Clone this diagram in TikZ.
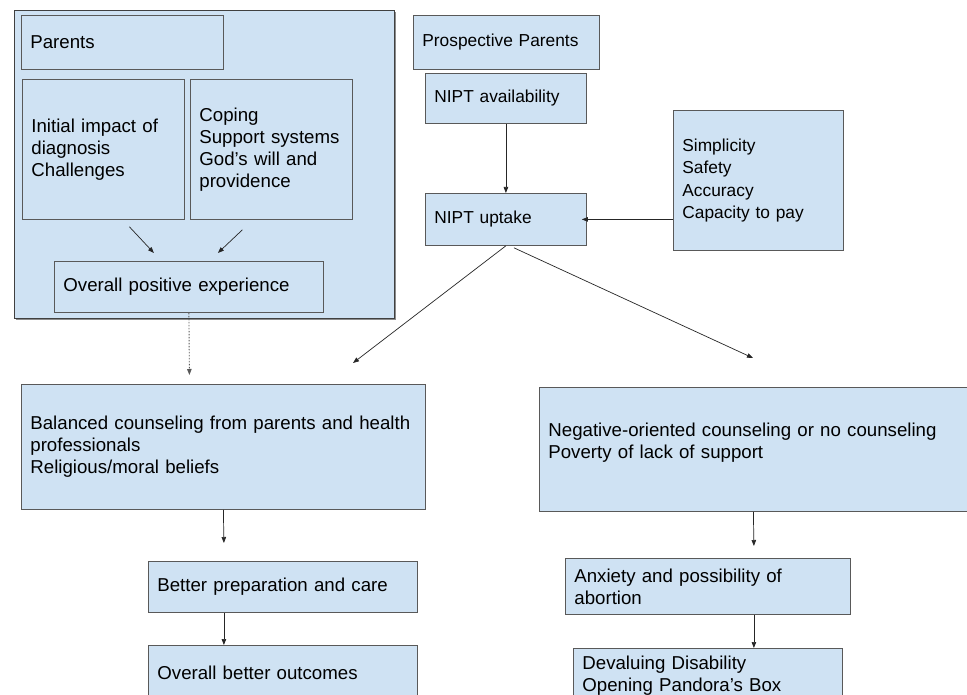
\documentclass[tikz,border=0pt]{standalone}
\usepackage{fontspec}
\setmainfont{Liberation Sans}
\usetikzlibrary{arrows.meta,shadows}
\definecolor{boxfill}{HTML}{CFE2F3}
\definecolor{boxline}{HTML}{595959}

\begin{document}
\begin{tikzpicture}[x=1pt,y=-1pt,>={Triangle[length=6pt,width=4.5pt]},
    box/.style={rectangle,draw=boxline,fill=boxfill,line width=0.8pt,anchor=north west,inner xsep=9pt,inner ysep=0pt,align=left,font=\fontsize{18.67}{22}\selectfont},
    small box/.style={box,font=\fontsize{17.33}{22.5}\selectfont},
    link/.style={->,line width=0.7pt,draw=black!85}]

        \useasboundingbox (0,0) rectangle (967,695);
        \fill[white] (0,0) rectangle (967,695);
        \clip (0,0) rectangle (967,695);

        % left group: parents
        \node[box,minimum width=380pt,minimum height=308pt,draw=black!75,
            drop shadow={shadow xshift=2pt,shadow yshift=-2pt,opacity=0.45,fill=black}] (family) at (14,10) {};
        \node[box,text width=184pt,minimum height=54pt] (parents) at (21,15) {Parents};
        \node[box,text width=144pt,minimum height=140pt] (impact) at (22,79) {Initial impact of\\diagnosis\\Challenges};
        \node[box,text width=144pt,minimum height=140pt] (coping) at (190,79) {Coping\\Support systems\\God’s will and\\providence};
        \node[box,text width=251pt,minimum height=51pt] (positive) at (54,261) {Overall positive experience};

        % prospective parents
        \node[small box,text width=168pt,minimum height=54pt] (prospective) at (413,15) {Prospective Parents};
        \node[small box,text width=143pt,minimum height=50pt] (avail) at (425,73) {NIPT availability};
        \node[small box,text width=143pt,minimum height=52pt] (uptake) at (425,193) {NIPT uptake};
        \node[small box,text width=152pt,minimum height=140pt] (factors) at (673,110) {Simplicity\\Safety\\Accuracy\\Capacity to pay};

        % outcomes
        \node[box,text width=386pt,minimum height=125pt] (balanced) at (21,384) {Balanced counseling from parents and health\\professionals\\Religious/moral beliefs};
        \node[box,text width=251pt,minimum height=51pt] (prep) at (148,561) {Better preparation and care};
        \node[box,text width=251pt,minimum height=54pt] (better) at (148,645) {Overall better outcomes};
        \node[box,text width=422pt,minimum height=124pt] (negative) at (539,387) {Negative-oriented counseling or no counseling\\Poverty of lack of support\\[-4pt]\mbox{}};
        \node[box,text width=267pt,minimum height=56pt] (anxiety) at (565,558) {Anxiety and possibility of\\abortion};
        \node[box,text width=251pt,minimum height=54pt] (devalue) at (573,648) {Devaluing Disability\\Opening Pandora’s Box};

        \coordinate (leftend) at (353,363);
        \coordinate (rightend) at (753,358);

        \draw[link] ([xshift=26pt,yshift=-7pt]impact.south) -- ([xshift=-35pt,yshift=8pt]positive.north);
        \draw[link] ([xshift=-29pt,yshift=-10pt]coping.south) -- ([xshift=29pt,yshift=8pt]positive.north);
        \draw[link,dash pattern=on 1.5pt off 1.5pt,draw=black!65,line width=0.9pt] (positive.south) -- ([xshift=-34pt,yshift=9pt]balanced.north);
        \draw[link] (avail) -- (uptake);
        \draw[link] (factors.west |- uptake.east) -- ([xshift=-5pt]uptake.east);
        \draw[link] (uptake.south) -- (leftend);
        \draw[link] ([xshift=8pt,yshift=-2pt]uptake.south) -- (rightend);
        \draw[link] (balanced.south) -- ([xshift=-59pt,yshift=18pt]prep.north);
        \draw[link] ([xshift=-59pt]prep.south) -- ([xshift=-59pt]better.north);
        \draw[link] ([xshift=-6pt]negative.south) -- ([xshift=46pt,yshift=12pt]anxiety.north);
        \draw[link] ([xshift=46pt]anxiety.south) -- ([xshift=46pt]devalue.north);

\end{tikzpicture}
\end{document}
